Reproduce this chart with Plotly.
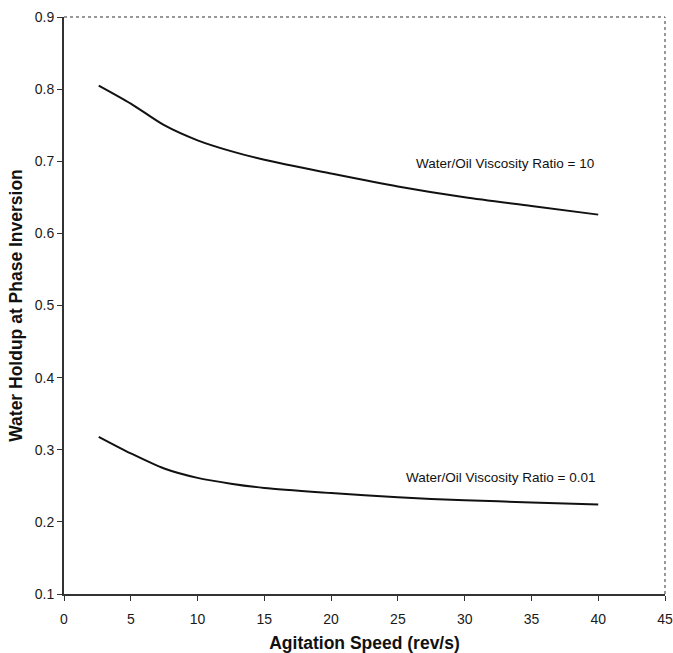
import plotly.graph_objects as go

# Agitation speed (rev/s)
speed = [2.6, 5, 7.5, 10, 12.5, 15, 20, 25, 30, 35, 40]
# Water holdup at phase inversion for two viscosity ratios
holdup_ratio_10 = [0.805, 0.780, 0.750, 0.729, 0.714, 0.702, 0.683, 0.665, 0.650, 0.638, 0.626]
holdup_ratio_001 = [0.318, 0.295, 0.274, 0.261, 0.253, 0.247, 0.240, 0.234, 0.230, 0.227, 0.224]

labels = ["Water/Oil Viscosity Ratio = 10", "Water/Oil Viscosity Ratio = 0.01"]
label_pos = [(39.8, 0.697), (39.9, 0.262)]

x_ticks = list(range(0, 50, 5))
y_ticks = [0.1, 0.2, 0.3, 0.4, 0.5, 0.6, 0.7, 0.8, 0.9]

font_family = "Liberation Sans, Arial, sans-serif"

fig = go.Figure()
for ys in (holdup_ratio_10, holdup_ratio_001):
    fig.add_trace(go.Scatter(
        x=speed, y=ys, mode="lines",
        line=dict(color="#111111", width=2, shape="spline", smoothing=0.8),
        showlegend=False, hoverinfo="skip",
    ))

for text, (lx, ly) in zip(labels, label_pos):
    fig.add_annotation(
        x=lx, y=ly, text=text, showarrow=False,
        xanchor="right", yanchor="middle",
        font=dict(family=font_family, size=13.5, color="#111111"),
    )

# dotted frame on the top and right edges
fig.add_shape(type="line", xref="paper", yref="paper", x0=0, x1=1, y0=1, y1=1,
              line=dict(color="#777777", width=1.5, dash="dot"))
fig.add_shape(type="line", xref="paper", yref="paper", x0=1, x1=1, y0=0, y1=1,
              line=dict(color="#777777", width=1.5, dash="dot"))

fig.update_layout(
    width=673, height=653,
    margin=dict(l=64, r=8, t=17, b=59),
    paper_bgcolor="white", plot_bgcolor="white",
    font=dict(family=font_family, color="#222222"),
    xaxis=dict(
        range=[0, 45], tickvals=x_ticks, ticks="outside", ticklen=5,
        tickcolor="#333333", showline=True, linecolor="#333333", linewidth=2,
        showgrid=False, zeroline=False, automargin=False,
        ticklabelstandoff=6,
        tickfont=dict(size=14, color="#1a1a1a"),
        title=dict(text="<b>Agitation Speed (rev/s)</b>",
                   font=dict(size=17.5, color="#111111"), standoff=12),
    ),
    yaxis=dict(
        range=[0.1, 0.9], tickvals=y_ticks, tickformat=".1f",
        ticks="outside", ticklen=5,
        tickcolor="#333333", showline=True, linecolor="#333333", linewidth=2,
        showgrid=False, zeroline=False, automargin=False,
        tickfont=dict(size=14, color="#1a1a1a"),
        title=dict(text="<b>Water Holdup at Phase Inversion</b>",
                   font=dict(size=17.5, color="#111111"), standoff=8),
    ),
)

fig.write_html("out.html")
